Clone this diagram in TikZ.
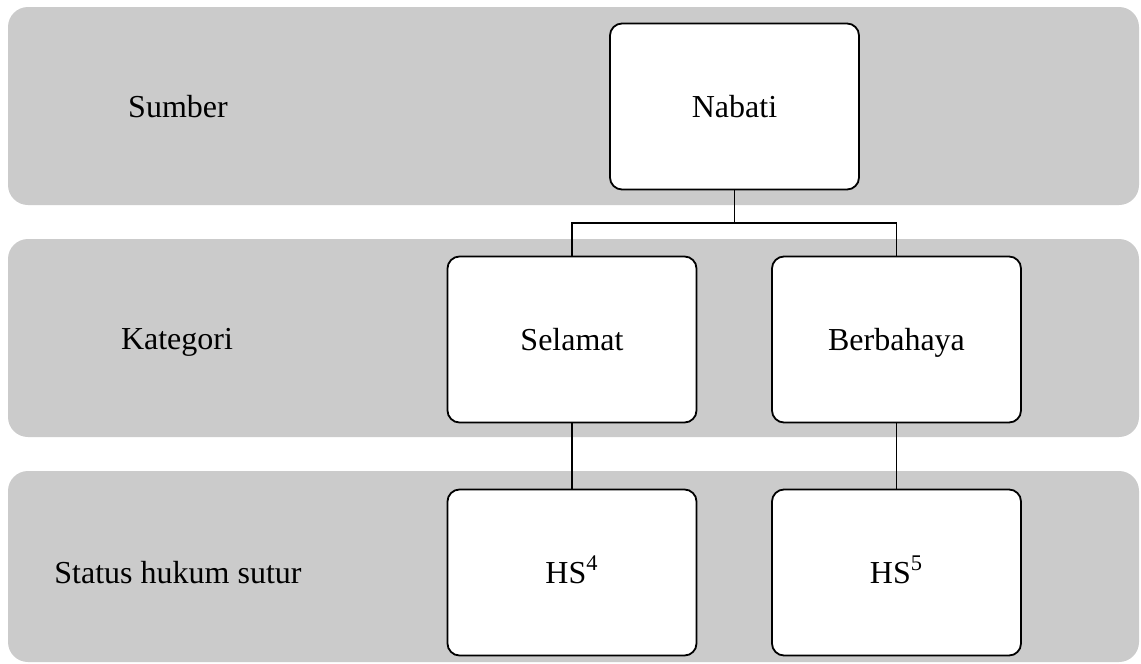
\documentclass[tikz,border=0pt]{standalone}
\usepackage{fontspec}
\setmainfont{Liberation Serif}
\usepackage{tikz}

\definecolor{bandgray}{RGB}{203,203,203}

\begin{document}
\begin{tikzpicture}[x=0.5pt,y=-0.5pt,
    band/.style={fill=bandgray, rounded corners=10pt},
    rowlabel/.style={font=\fontsize{16}{19}\selectfont,
      text height=11pt, text depth=0pt},
    item/.style={draw, fill=white, line width=0.9pt, rounded corners=6pt,
      minimum width=124.5pt, minimum height=83pt,
      text height=11pt, text depth=0pt,
      font=\fontsize{16}{19}\selectfont},
    link/.style={line width=0.9pt}]

  \def\xmin{8}
  \def\xmax{1139}

  \useasboundingbox (0,0) rectangle (1141,664);

  % bands
  \fill[band] (\xmin,7) rectangle (\xmax,205);
  \fill[band] (\xmin,239) rectangle (\xmax,437);
  \fill[band] (\xmin,471) rectangle (\xmax,662);

  % row labels
  \node[rowlabel] (sumber) at (178,106) {Sumber};
  \node[rowlabel] (kategori) at (177,338) {Kategori};
  \node[rowlabel] (status) at (178,572) {Status hukum sutur};

  % boxes
  \node[item] (nabati) at (734.5,106.5) {Nabati};
  \node[item] (selamat) at (572,339.5) {Selamat};
  \node[item] (berbahaya) at (896.5,339.5) {Berbahaya};
  \node[item] (hs4) at (572,572.5) {HS\textsuperscript{4}};
  \node[item] (hs5) at (896.5,572.5) {HS\textsuperscript{5}};

  % connectors
  \coordinate (fork) at (734.5,223);
  \draw[link] (nabati.south) -- (fork);
  \draw[link] (selamat.north) |- (fork) -| (berbahaya.north);
  \draw[link] (selamat.south) -- (hs4.north);
  \draw[link] (berbahaya.south) -- (hs5.north);

\end{tikzpicture}
\end{document}
